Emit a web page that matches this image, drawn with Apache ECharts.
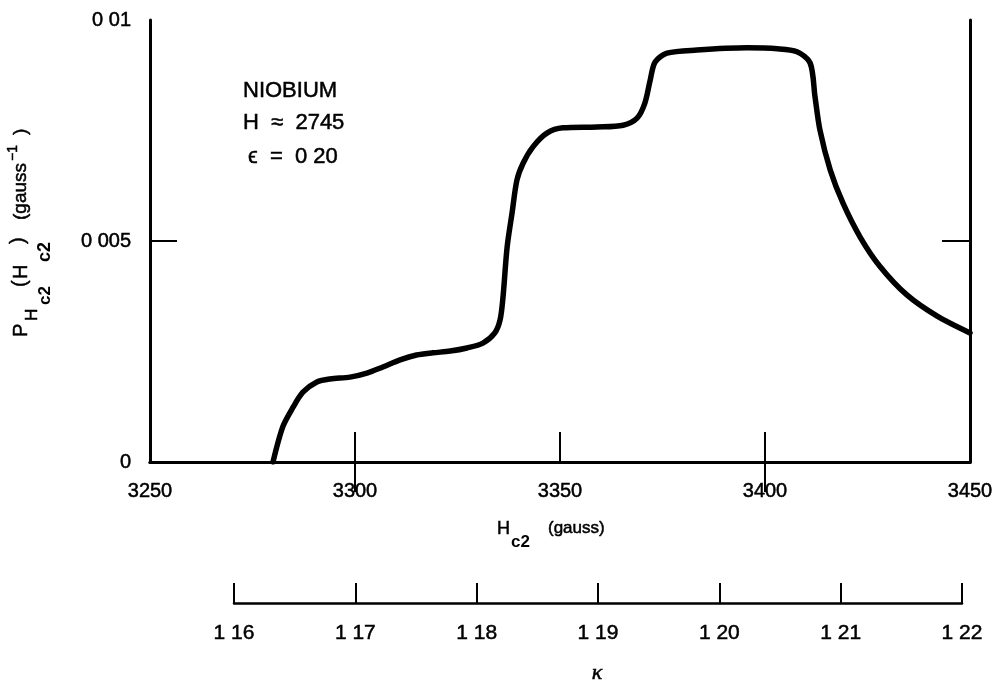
<!DOCTYPE html>
<html>
<head>
<meta charset="utf-8">
<title>Niobium Hc2 distribution</title>
<script src="https://cdn.jsdelivr.net/npm/echarts@6/dist/echarts.min.js"></script>
<style>
  html, body { margin: 0; padding: 0; background: #fff; }
  #chart { width: 1006px; height: 685px; }
</style>
</head>
<body>
<div id="chart"></div>
<script>
// Upper critical field Hc2 (gauss) and probability density P_Hc2 (gauss^-1)
const hc2 = [
  3280, 3282.4, 3284.9, 3287.3, 3290.7, 3293.9, 3298.8, 3302.9, 3306.8, 3311,
  3315, 3319, 3323.2, 3327.3, 3331.2, 3334.1, 3335.4, 3336.1, 3337.1, 3338.3,
  3339.5, 3341, 3343.4, 3346.8, 3350.7, 3359, 3365.4, 3368.8, 3370.7, 3372,
  3373.2, 3376.1, 3383.4, 3395.6, 3403, 3407.8, 3411, 3412.2, 3413.4, 3415.9,
  3419, 3423.2, 3428, 3434.6, 3442, 3450
];
const prob = [
  0, 0.0008, 0.00124, 0.00158, 0.00181, 0.00188, 0.00192, 0.00201, 0.00215, 0.00231,
  0.00242, 0.00247, 0.00251, 0.00258, 0.00269, 0.00292, 0.00322, 0.00373, 0.00486, 0.00563,
  0.00638, 0.00676, 0.00713, 0.00744, 0.00756, 0.00758, 0.00762, 0.00778, 0.00812, 0.00864,
  0.00905, 0.00925, 0.00932, 0.00937, 0.00935, 0.00928, 0.00903, 0.00826, 0.00751, 0.00661,
  0.00586, 0.00509, 0.00443, 0.00378, 0.0033, 0.00292
];

// Axis ticks and their printed labels
const hTicks = [3250, 3300, 3350, 3400, 3450];
const hInnerTicks = [3300, 3350, 3400];
const hTopTicks = [3300, 3400];
const pTicks = [0, 0.005, 0.01];
const pTickLabels = ['0', '0 005', '0 01'];
const kappaTicks = [1.16, 1.17, 1.18, 1.19, 1.20, 1.21, 1.22];
const kappaTickLabels = ['1 16', '1 17', '1 18', '1 19', '1 20', '1 21', '1 22'];

const FONT = '"Liberation Sans", Arial, sans-serif';
const INK = '#000';
// a hairline outline gives the glyphs a slightly heavier, printed look
const INK_EDGE = { textBorderColor: INK, textBorderWidth: 0.5 };

function lookup(ticks, labels, v) {
  for (let i = 0; i < ticks.length; i++) {
    if (Math.abs(ticks[i] - v) < 1e-6) return labels[i];
  }
  return '';
}

function txt(x, y, text, size, extra) {
  return {
    type: 'text', x: x, y: y,
    style: Object.assign({
      text: text, fill: INK, fontFamily: FONT, fontSize: size,
      textVerticalAlign: 'middle', stroke: INK, lineWidth: 0.5
    }, extra || {})
  };
}

const chart = echarts.init(document.getElementById('chart'), null, { renderer: 'canvas' });

const frame = { color: INK, width: 3 };
const tickStyle = { color: INK, width: 2 };

const option = {
  animation: false,
  backgroundColor: '#fff',
  grid: [
    { left: 150, right: 36, top: 20, bottom: 223 },
    { left: 234, right: 44, top: 580, height: 23 }
  ],
  xAxis: [
    {
      type: 'value', gridIndex: 0, position: 'bottom',
      min: 3250, max: 3450, interval: 50,
      axisLine: { show: true, lineStyle: frame },
      axisTick: { show: true, inside: true, length: 30, customValues: hInnerTicks, lineStyle: tickStyle },
      axisLabel: Object.assign({ show: true, margin: 19, color: INK, fontFamily: FONT, fontSize: 20,
                   customValues: hTicks, formatter: v => String(v) }, INK_EDGE),
      splitLine: { show: false }
    },
    {
      type: 'value', gridIndex: 0, position: 'top',
      min: 3250, max: 3450, interval: 50,
      axisLine: { show: true, lineStyle: frame },
      axisTick: { show: true, inside: true, length: 30, customValues: hTopTicks, lineStyle: tickStyle },
      axisLabel: { show: false },
      splitLine: { show: false }
    },
    {
      type: 'value', gridIndex: 1, position: 'bottom',
      min: 1.16, max: 1.22, interval: 0.01,
      axisLine: { show: true, lineStyle: { color: INK, width: 2.5 } },
      axisTick: { show: true, inside: true, length: 20, lineStyle: tickStyle },
      axisLabel: Object.assign({ show: true, margin: 20, color: INK, fontFamily: FONT, fontSize: 21,
                   formatter: v => lookup(kappaTicks, kappaTickLabels, v) }, INK_EDGE),
      splitLine: { show: false }
    }
  ],
  yAxis: [
    {
      type: 'value', gridIndex: 0, position: 'left',
      min: 0, max: 0.01, interval: 0.005,
      axisLine: { show: true, lineStyle: frame },
      axisTick: { show: true, inside: true, length: 27, customValues: [0.005], lineStyle: tickStyle },
      axisLabel: Object.assign({ show: true, margin: 19, color: INK, fontFamily: FONT, fontSize: 20,
                   formatter: v => lookup(pTicks, pTickLabels, v) }, INK_EDGE),
      splitLine: { show: false }
    },
    {
      type: 'value', gridIndex: 0, position: 'right',
      min: 0, max: 0.01, interval: 0.005,
      axisLine: { show: true, lineStyle: frame },
      axisTick: { show: true, inside: true, length: 28, customValues: [0.005], lineStyle: tickStyle },
      axisLabel: { show: false },
      splitLine: { show: false }
    },
    { type: 'value', gridIndex: 1, show: false, min: 0, max: 1 }
  ],
  series: [
    {
      type: 'line',
      xAxisIndex: 0, yAxisIndex: 0,
      data: hc2.map((h, i) => [h, prob[i]]),
      showSymbol: false,
      smooth: 0.3,
      lineStyle: { color: INK, width: 5.5, cap: 'round', join: 'round' },
      silent: true
    }
  ],
  graphic: [
    // annotation block inside the plot
    txt(243, 91, 'NIOBIUM', 22),
    txt(243, 123, 'H  \u2248  2745', 22),
    txt(248, 157, '\u03f5  =  0 20', 22),

    // x-axis title: Hc2 (gauss)
    txt(497, 529, 'H', 18),
    txt(511, 542, 'c2', 17, { fontWeight: 'bold', lineWidth: 0 }),
    txt(548, 528, '(gauss)', 17),

    // kappa axis title
    txt(597, 673, '\u03ba', 22, { fontFamily: '"Liberation Serif", serif', fontStyle: 'italic', textAlign: 'center' }),

    // rotated y-axis title: P_Hc2 (Hc2) (gauss^-1)
    {
      type: 'group', x: 21, y: 340, rotation: Math.PI / 2,
      children: [
        txt(3, 0, 'P', 20),
        txt(19, 11, 'H', 17),
        txt(35, 24, 'c2', 17, { fontWeight: 'bold', lineWidth: 0 }),
        txt(53, -1, '(', 20),
        txt(61, 0, 'H', 20),
        txt(78, 24, 'c2', 18, { fontWeight: 'bold', lineWidth: 0 }),
        txt(96, -3, ')', 20),
        txt(120, 0, '(gauss', 19),
        txt(179, -8, '\u22121', 14),
        txt(205, 0, ')', 19)
      ]
    }
  ]
};

chart.setOption(option);
</script>
</body>
</html>
